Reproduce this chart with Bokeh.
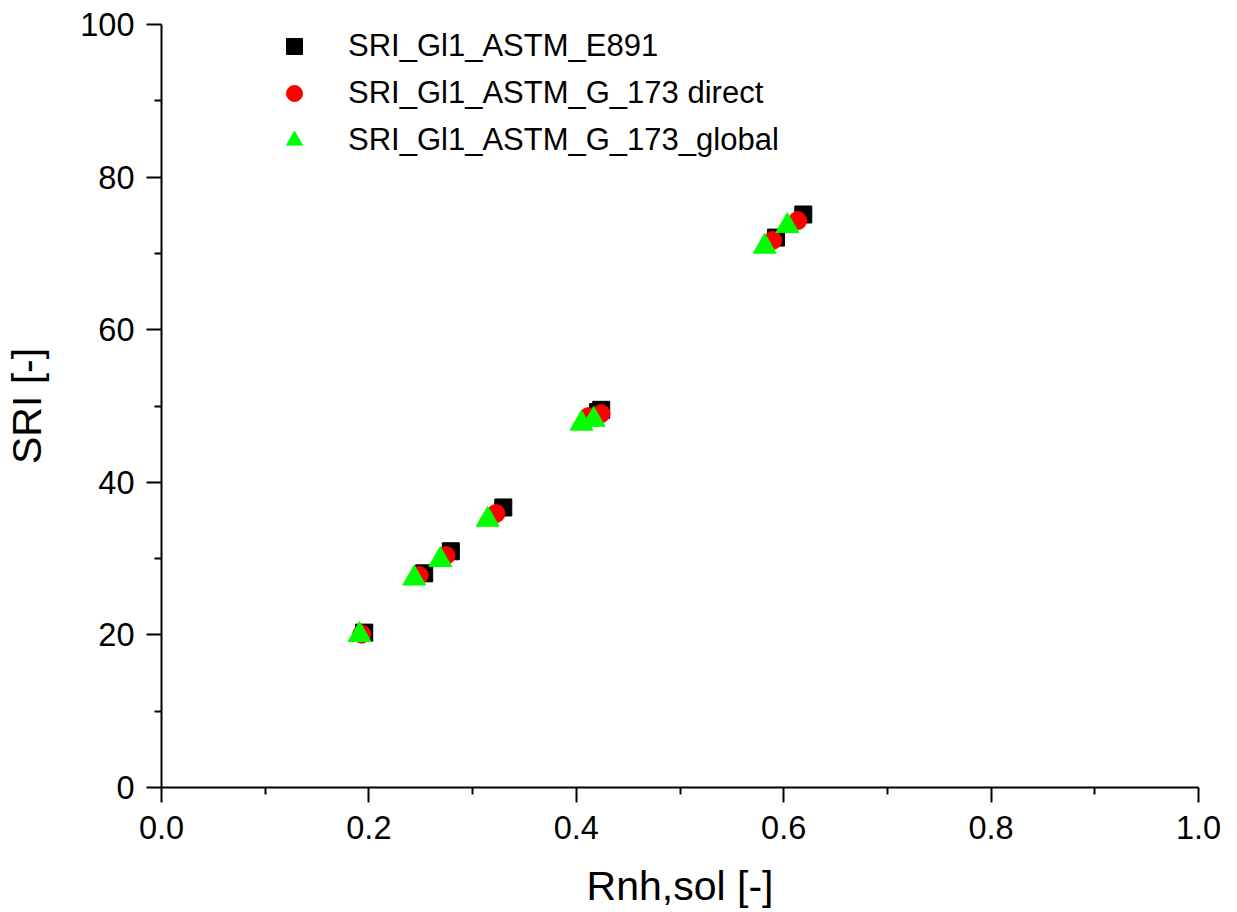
from bokeh.plotting import figure
from bokeh.models import Range1d, FixedTicker, Legend, LegendItem, CustomJSTickFormatter
from bokeh.embed import file_html
from bokeh.resources import INLINE

# Data
e891_x = [0.1955, 0.2533, 0.2790, 0.3296, 0.4210, 0.4240, 0.5926, 0.6189]
e891_y = [20.3, 28.07, 30.96, 36.7, 49.2, 49.5, 72.07, 75.1]

g173d_x = [0.1930, 0.2485, 0.2743, 0.3225, 0.4115, 0.4238, 0.5894, 0.6135]
g173d_y = [20.1, 27.8, 30.4, 35.9, 48.6, 49.0, 71.7, 74.3]

g173g_x = [0.1910, 0.2437, 0.2688, 0.3145, 0.4050, 0.4167, 0.5817, 0.6035]
g173g_y = [20.0, 27.4, 29.83, 35.1, 47.7, 48.2, 70.9, 73.6]

series_names = ["SRI_Gl1_ASTM_E891", "SRI_Gl1_ASTM_G_173 direct", "SRI_Gl1_ASTM_G_173_global"]
x_title = "Rnh,sol [-]"
y_title = "SRI [-]"
x_ticks = [0.0, 0.2, 0.4, 0.6, 0.8, 1.0]
y_ticks = [0, 20, 40, 60, 80, 100]

FONT = "Liberation Sans"

p = figure(width=1237, height=912, output_backend="svg", toolbar_location=None,
           x_range=Range1d(0, 1.0), y_range=Range1d(0, 100),
           min_border_left=161, min_border_right=39, min_border_top=24, min_border_bottom=125)
p.outline_line_color = None
p.xgrid.grid_line_color = None
p.ygrid.grid_line_color = None

r1 = p.scatter(e891_x, e891_y, marker="square", size=17, color="black")
r2 = p.scatter(g173d_x, g173d_y, marker="circle", size=18, color="#ff0000")
r3 = p.scatter(g173g_x, g173g_y, marker="triangle", size=23, color="#00ff00")

for ax, ticks in ((p.xaxis[0], x_ticks), (p.yaxis[0], y_ticks)):
    ax.ticker = FixedTicker(ticks=ticks, minor_ticks=[t + (ticks[1] - ticks[0]) / 2 for t in ticks[:-1]])
    ax.axis_line_width = 2
    ax.axis_line_color = "black"
    ax.major_tick_line_width = 2
    ax.minor_tick_line_width = 2
    ax.major_tick_out = 15
    ax.major_tick_in = 0
    ax.minor_tick_out = 7
    ax.minor_tick_in = 0
    ax.major_label_text_font = FONT
    ax.major_label_text_font_size = "32.5px"
    ax.major_label_text_color = "black"
    ax.axis_label_text_font = FONT
    ax.axis_label_text_font_style = "normal"
    ax.axis_label_text_font_size = "41px"
    ax.axis_label_text_color = "black"

p.xaxis[0].formatter = CustomJSTickFormatter(code="return tick.toFixed(1);")
p.xaxis[0].major_label_standoff = 13
p.yaxis[0].major_label_standoff = 12
p.xaxis[0].axis_label = x_title
p.xaxis[0].axis_label_standoff = 21
p.yaxis[0].axis_label = y_title
p.yaxis[0].axis_label_standoff = 27

legend = Legend(items=[LegendItem(label=series_names[0], renderers=[r1]),
                       LegendItem(label=series_names[1], renderers=[r2]),
                       LegendItem(label=series_names[2], renderers=[r3])],
                location=(113, 624))
legend.border_line_color = None
legend.background_fill_alpha = 0
legend.padding = 0
legend.margin = 0
legend.spacing = 0
legend.glyph_width = 40
legend.glyph_height = 40
legend.label_height = 47
legend.label_standoff = 34
legend.label_text_font = FONT
legend.label_text_font_size = "31px"
legend.label_text_color = "black"
p.add_layout(legend, "center")

open("out.html", "w").write(file_html(p, INLINE))
